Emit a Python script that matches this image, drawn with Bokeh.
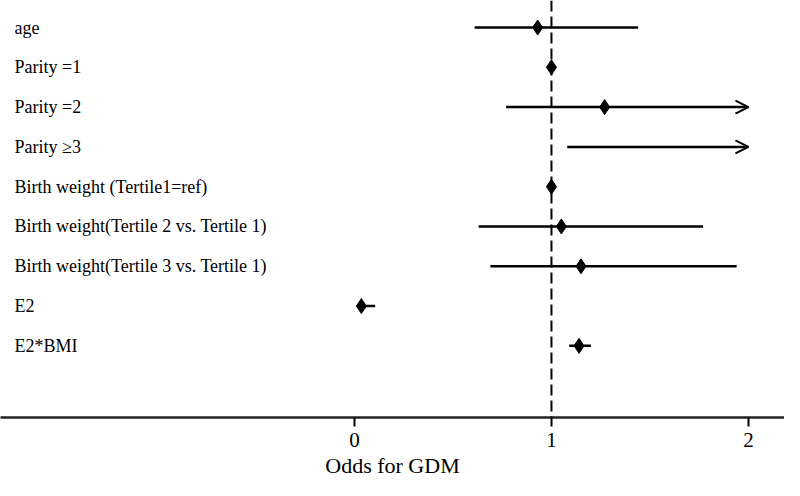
from bokeh.plotting import figure
from bokeh.models import ColumnDataSource, Range1d, Arrow, OpenHead, FixedTicker, Span
from bokeh.core.properties import value
from bokeh.embed import file_html
from bokeh.resources import INLINE

# ---- data ----
labels = [
    "age",
    "Parity =1",
    "Parity =2",
    "Parity \u22653",
    "Birth weight (Tertile1=ref)",
    "Birth weight(Tertile 2 vs. Tertile 1)",
    "Birth weight(Tertile 3 vs. Tertile 1)",
    "E2",
    "E2*BMI",
]
odds = [0.93, 1.0, 1.27, 2.6, 1.0, 1.05, 1.15, 0.035, 1.14]
lower = [0.61, 1.0, 0.77, 1.08, 1.0, 0.63, 0.69, 0.012, 1.09]
upper = [1.44, 1.0, 3.2, 4.8, 1.0, 1.77, 1.94, 0.105, 1.20]
ticks = [0, 1, 2]
x_clip = 2.0
ref_line = 1.0

FONT = "Liberation Serif"
rows = [-i for i in range(len(labels))]
X0, X1 = -1.797, 2.183

p = figure(width=784, height=480, output_backend="svg", toolbar_location=None,
           x_range=Range1d(X0, X1), y_range=Range1d(-9.80, 0.679),
           y_axis_location=None, min_border_left=0, min_border_right=0,
           min_border_top=0, min_border_bottom=0)
p.outline_line_color = None
p.xgrid.visible = False
p.ygrid.visible = False
p.background_fill_color = "white"

# reference line
p.add_layout(Span(location=ref_line, dimension="height", line_color="black",
                  line_width=2, line_dash="11 5"))

# CI lines (within range)
seg_src = ColumnDataSource(dict(
    y=[r for r, u in zip(rows, upper) if u <= x_clip],
    x0=[l for l, u in zip(lower, upper) if u <= x_clip],
    x1=[u for u in upper if u <= x_clip],
))
p.segment(x0="x0", y0="y", x1="x1", y1="y", source=seg_src,
          line_color="black", line_width=2.5)

# CI lines exceeding range -> arrows
arr_src = ColumnDataSource(dict(
    y=[r for r, u in zip(rows, upper) if u > x_clip],
    x0=[l for l, u in zip(lower, upper) if u > x_clip],
    x1=[min(u, x_clip) for u in upper if u > x_clip],
))
p.add_layout(Arrow(end=OpenHead(size=13, line_width=2, line_color="black"),
                   x_start="x0", y_start="y", x_end="x1", y_end="y",
                   source=arr_src, line_color="black", line_width=2.5))

# point estimates
pt_src = ColumnDataSource(dict(x=odds, y=rows, label=labels,
                               lx=[X0] * len(labels)))
p.scatter(x="x", y="y", source=pt_src, marker="diamond", size=15,
          fill_color="black", line_color="black")

# row labels
p.text(x="lx", y="y", text="label", source=pt_src, x_offset=14,
       text_font=value(FONT), text_font_size="18px", text_color="black",
       text_baseline="middle", text_align="left")

# x axis
ax = p.xaxis[0]
ax.ticker = FixedTicker(ticks=ticks)
ax.minor_tick_line_color = None
ax.major_tick_out = 9
ax.major_tick_in = 0
ax.major_tick_line_width = 2
ax.major_tick_line_color = "black"
ax.axis_line_width = 2.5
ax.axis_line_color = "#222222"
ax.major_label_text_font = FONT
ax.major_label_text_font_size = "21px"
ax.major_label_text_color = "black"
ax.major_label_standoff = 6
ax.axis_label = "Odds for GDM"
ax.axis_label_text_font = FONT
ax.axis_label_text_font_size = "22px"
ax.axis_label_text_font_style = "normal"
ax.axis_label_text_color = "black"
ax.axis_label_standoff = 3

open("out.html", "w").write(file_html(p, INLINE))
